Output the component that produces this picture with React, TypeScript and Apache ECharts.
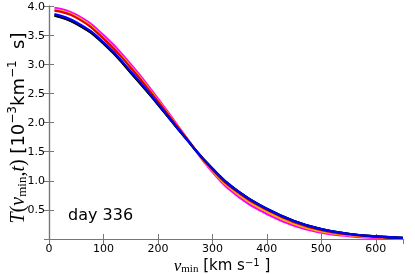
import React, { useEffect, useRef } from "react";
import * as echarts from "echarts";

const velocities = [10, 50, 100, 150, 200, 250, 300, 350, 400, 450, 500, 550, 600, 650];
const magentaT = [3.97, 3.85, 3.5, 3.0, 2.41, 1.77, 1.15, 0.71, 0.43, 0.23, 0.11, 0.05, 0.02, 0.008];
const orangeT = [3.94, 3.82, 3.46, 2.96, 2.38, 1.76, 1.17, 0.75, 0.47, 0.26, 0.13, 0.065, 0.03, 0.012];
const redT = [3.92, 3.8, 3.44, 2.94, 2.36, 1.76, 1.19, 0.78, 0.5, 0.29, 0.15, 0.078, 0.037, 0.016];
const greenT = [3.84, 3.7, 3.36, 2.86, 2.31, 1.74, 1.21, 0.8, 0.52, 0.31, 0.17, 0.09, 0.045, 0.02];
const blackT = [3.835, 3.695, 3.355, 2.855, 2.31, 1.74, 1.21, 0.8, 0.52, 0.31, 0.17, 0.09, 0.045, 0.02];
const blueT = [3.86, 3.72, 3.38, 2.88, 2.32, 1.74, 1.21, 0.8, 0.52, 0.31, 0.17, 0.09, 0.045, 0.02];
const yTicks = [0.5, 1.0, 1.5, 2.0, 2.5, 3.0, 3.5, 4.0];
const dayLabel = "day 336";

const seriesDefs = [
  { name: "magenta", color: "#ff00ff", values: magentaT },
  { name: "orange", color: "#ffb000", values: orangeT },
  { name: "red", color: "#e00000", values: redT },
  { name: "green", color: "#006400", values: greenT },
  { name: "black", color: "#000000", values: blackT },
  { name: "blue", color: "#0000ff", values: blueT },
];

export default function App() {
  const ref = useRef<HTMLDivElement>(null);
  useEffect(() => {
    if (!ref.current) return;
    const chart = echarts.init(ref.current, null, { renderer: "svg" });
    const axisColor = "#777";
    const tickFont = { fontFamily: "DejaVu Sans", fontSize: 11, color: "#000" };
    chart.setOption({
      animation: false,
      grid: { left: 49, right: 12, top: 6, bottom: 35 },
      xAxis: [
        {
          type: "value",
          min: 0,
          max: 650,
          interval: 100,
          axisLine: { lineStyle: { color: axisColor, width: 1.2 } },
          axisTick: { inside: true, length: 5, lineStyle: { color: axisColor } },
          axisLabel: { ...tickFont, margin: 4, showMaxLabel: false },
          splitLine: { show: false },
        },
        {
          type: "value",
          position: "top",
          min: 0,
          max: 650,
          interval: 100,
          axisLine: { show: true, lineStyle: { color: axisColor, width: 1.2 } },
          axisTick: { inside: true, length: 5, lineStyle: { color: axisColor } },
          axisLabel: { show: false },
          splitLine: { show: false },
        },
      ],
      yAxis: [
        {
          type: "value",
          min: 0,
          max: 4,
          interval: 0.5,
          axisLine: { show: true, lineStyle: { color: axisColor, width: 1.2 } },
          axisTick: { show: true, inside: true, length: 5, lineStyle: { color: axisColor } },
          axisLabel: {
            ...tickFont,
            margin: 4,
            formatter: (v: number) => (yTicks.includes(v) ? v.toFixed(1) : ""),
          },
          splitLine: { show: false },
        },
        {
          type: "value",
          position: "right",
          min: 0,
          max: 4,
          interval: 0.5,
          axisLine: { show: true, lineStyle: { color: axisColor, width: 1.2 } },
          axisTick: { show: true, inside: true, length: 5, lineStyle: { color: axisColor } },
          axisLabel: { show: false },
          splitLine: { show: false },
        },
      ],
      series: seriesDefs.map((s) => ({
        name: s.name,
        type: "line",
        smooth: 0.5,
        showSymbol: false,
        symbol: "none",
        xAxisIndex: 0,
        yAxisIndex: 0,
        lineStyle: { color: s.color, width: 2.2 },
        data: velocities.map((v, i) => [v, s.values[i]]),
      })),
      graphic: [
        {
          type: "text",
          left: 68,
          top: 206,
          style: { text: dayLabel, fontFamily: "DejaVu Sans", fontSize: 16, fill: "#000" },
        },
        {
          type: "text",
          x: 222,
          y: 265,
          style: {
            text: "{mi|v}{sub|min}{n| [km s}{sup|−1}{n| ]}",
            align: "center",
            verticalAlign: "middle",
            rich: {
              mi: { fontFamily: "Liberation Serif", fontStyle: "italic", fontSize: 17, fill: "#000" },
              sub: { fontFamily: "Liberation Serif", fontSize: 11, fill: "#000", padding: [5, 0, 0, 0] },
              n: { fontFamily: "DejaVu Sans", fontSize: 15, fill: "#000" },
              sup: { fontFamily: "DejaVu Sans", fontSize: 10, fill: "#000", padding: [0, 0, 6, 0] },
            },
          },
        },
        {
          type: "text",
          x: 17,
          y: 128,
          rotation: Math.PI / 2,
          style: {
            text: "{mi|T}{r|(}{mi|v}{sub|min}{r|,}{mi|t}{r|)}{n| [10}{sup|−3}{n|km}{sup|−1}{n|  s]}",
            align: "center",
            verticalAlign: "middle",
            rich: {
              mi: { fontFamily: "Liberation Serif", fontStyle: "italic", fontSize: 20, fill: "#000" },
              r: { fontFamily: "Liberation Serif", fontSize: 20, fill: "#000" },
              sub: { fontFamily: "Liberation Serif", fontSize: 13, fill: "#000", padding: [9, 0, 0, 0] },
              n: { fontFamily: "DejaVu Sans", fontSize: 18, fill: "#000" },
              sup: { fontFamily: "DejaVu Sans", fontSize: 12, fill: "#000", padding: [0, 0, 11, 0] },
            },
          },
        },
      ],
    });
    return () => chart.dispose();
  }, []);
  return (
    <div
      ref={ref}
      style={{ position: "fixed", left: 0, top: 0, width: 415, height: 274 }}
    />
  );
}
